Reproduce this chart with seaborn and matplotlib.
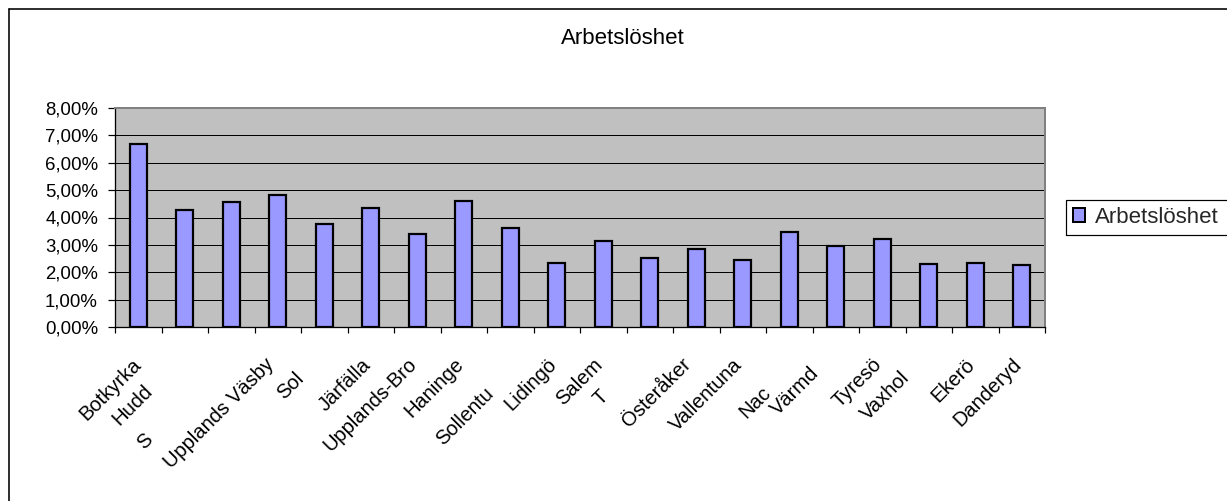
import matplotlib
matplotlib.use("Agg")
import matplotlib.pyplot as plt
from matplotlib.lines import Line2D
from matplotlib.patches import Patch, Rectangle
from matplotlib.ticker import FixedLocator
import seaborn as sns
import pandas as pd

# ---- data ----
municipalities = ["Botkyrka", "Huddinge", "Södertälje", "Upplands Väsby", "Solna",
                  "Järfälla", "Upplands-Bro", "Haninge", "Sollentuna", "Lidingö",
                  "Salem", "Täby", "Österåker", "Vallentuna", "Nacka",
                  "Värmdö", "Tyresö", "Vaxholm", "Ekerö", "Danderyd"]
# labels as they are visible in the chart (partly hidden in the original)
tick_labels = ["Botkyrka", "Hudd", "S", "Upplands Väsby", "Sol",
               "Järfälla", "Upplands-Bro", "Haninge", "Sollentu", "Lidingö",
               "Salem", "T", "Österåker", "Vallentuna", "Nac",
               "Värmd", "Tyresö", "Vaxhol", "Ekerö", "Danderyd"]
unemployment = [6.70, 4.28, 4.55, 4.81, 3.78, 4.33, 3.38, 4.59, 3.60, 2.32,
                3.15, 2.52, 2.85, 2.45, 3.47, 2.95, 3.22, 2.30, 2.32, 2.26]
y_ticks = [0, 1, 2, 3, 4, 5, 6, 7, 8]
series_name = "Arbetslöshet"
title = "Arbetslöshet"

# ---- style ----
sns.set_theme(style="white")
plt.rcParams['font.family'] = ['Liberation Sans', 'DejaVu Sans']

W, H = 1227, 501
PX = 72 / 100  # points per pixel at dpi 100
fig = plt.figure(figsize=(W / 100, H / 100), dpi=100)
fig.patch.set_facecolor("white")
ax = fig.add_axes([115 / W, 1 - 327 / H, 930 / W, 219 / H])

df = pd.DataFrame({"Kommun": municipalities, "Arbetslöshet": unemployment})
bar_color = "#9999FF"
sns.barplot(data=df, x="Kommun", y="Arbetslöshet", color=bar_color, saturation=1,
            width=0.37, edgecolor="black", linewidth=2.2 * PX, errorbar=None, ax=ax)

ax.set_facecolor("#C0C0C0")
ax.set_xlim(-0.5, len(municipalities) - 0.5)
ax.set_ylim(y_ticks[0], y_ticks[-1])
ax.set_xlabel("")
ax.set_ylabel("")

# grid
ax.set_axisbelow(True)
ax.yaxis.grid(True, color="black", linewidth=1.0 * PX)
ax.xaxis.grid(False)

# spines
for s in ["left", "bottom"]:
    ax.spines[s].set_color("black")
    ax.spines[s].set_linewidth(1.3 * PX)
for s in ["top", "right"]:
    ax.spines[s].set_color("#808080")
    ax.spines[s].set_linewidth(2.0 * PX)

# y ticks
ax.set_yticks(y_ticks)
ax.set_yticklabels([f"{v:.2f}".replace(".", ",") + "%" for v in y_ticks])
ax.tick_params(axis="y", which="major", left=True, length=7 * PX, width=1.2 * PX,
               color="black", direction="out", labelsize=13.4, pad=10 * PX,
               labelcolor="black")

# x ticks: marks between categories, labels placed as annotations
ax.set_xticks(range(len(municipalities)))
ax.set_xticklabels([])
ax.tick_params(axis="x", which="major", length=0)
ax.xaxis.set_minor_locator(FixedLocator([i - 0.5 for i in range(len(municipalities) + 1)]))
ax.tick_params(axis="x", which="minor", bottom=True, length=6 * PX, width=1.2 * PX,
               color="black", direction="out")

# label placement offsets (pixels) for the rotated labels
default_off = (-10, -28)
special_off = {0: (-7, -28), 1: (-42, -54), 2: (-88, -103), 3: (-13, -28),
               4: (-30, -42), 8: (-26, -57), 11: (-51, -60), 12: (-15, -28),
               14: (-28, -56), 15: (-26, -36), 17: (-29, -41)}
for i, lab in enumerate(tick_labels):
    dx, dy = special_off.get(i, default_off)
    ax.annotate(lab, xy=(i, 0), xycoords=("data", "axes fraction"),
                xytext=(dx, dy), textcoords="offset pixels",
                rotation=45, rotation_mode="anchor", ha="right", va="top",
                fontsize=14.5, color="black", annotation_clip=False)

# title
fig.text(623 / W, 1 - 38 / H, title, ha="center", va="center", fontsize=16, color="black")

# legend (frame drawn separately so it runs off the right edge like the original)
handle = Patch(facecolor=bar_color, edgecolor="black", linewidth=2.0 * PX)
fig.legend(handles=[handle], labels=[series_name], loc="center left",
           bbox_to_anchor=(1066 / W, 1 - 217.5 / H), frameon=False,
           fontsize=16, handlelength=0.55, handleheight=0.55, handletextpad=0.45,
           borderpad=0.3, borderaxespad=0)
fig.add_artist(Rectangle((1066 / W, 1 - 235 / H), 200 / W, 35 / H,
                         transform=fig.transFigure, facecolor="none",
                         edgecolor="black", linewidth=1.2 * PX))

# outer chart frame (only top/left visible)
fig.add_artist(Line2D([9 / W, 9 / W], [1 - 9 / H, 0], transform=fig.transFigure,
                      color="black", linewidth=1.6 * PX))
fig.add_artist(Line2D([9 / W, 1], [1 - 9 / H, 1 - 9 / H], transform=fig.transFigure,
                      color="black", linewidth=1.6 * PX))

fig.savefig("out.png", dpi=100)
